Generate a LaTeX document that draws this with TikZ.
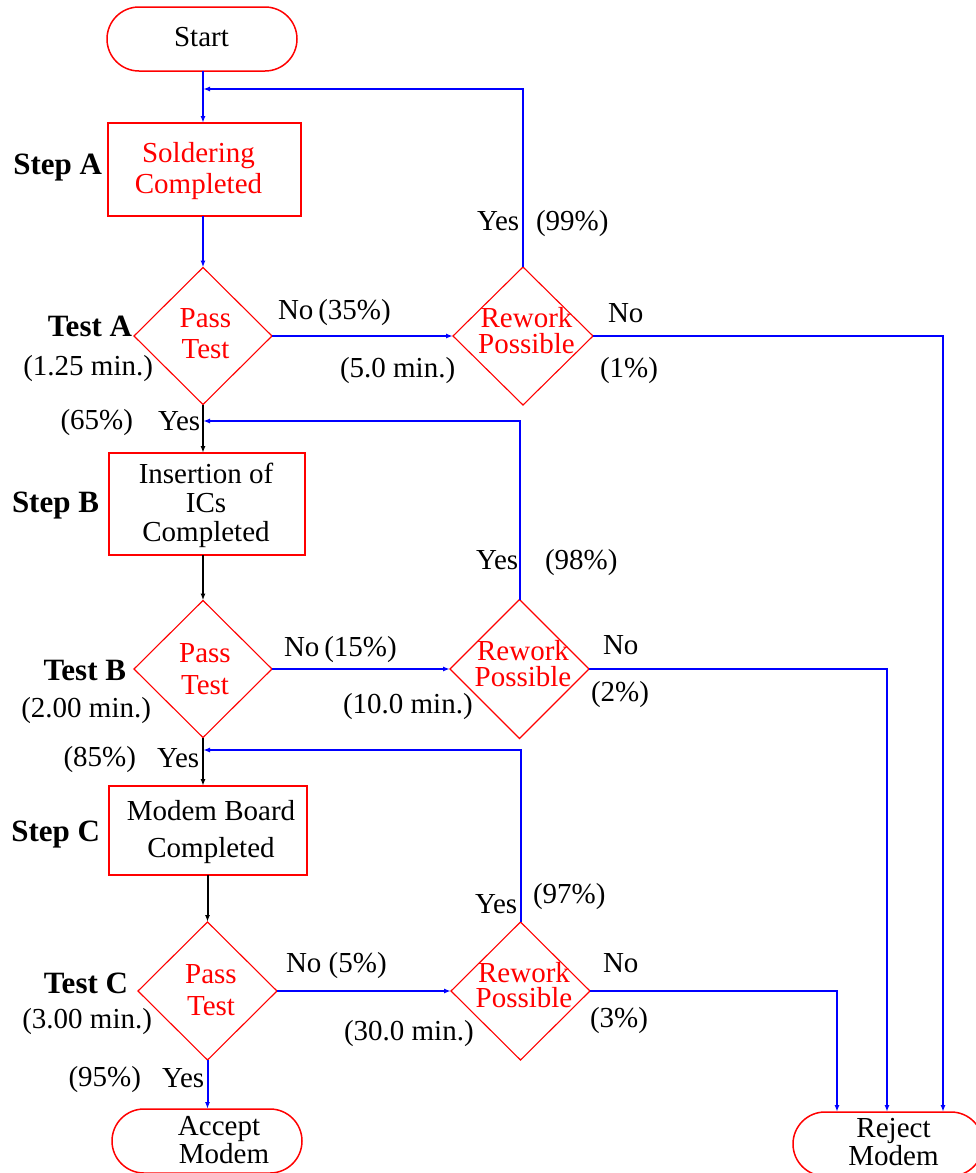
\documentclass[tikz,border=0pt]{standalone}
\usepackage{fontspec}
\setmainfont{Liberation Serif}
\usetikzlibrary{shapes.geometric,shapes.misc,arrows.meta}
\begin{document}
\begin{tikzpicture}[x=1pt,y=-1pt,
 every node/.style={inner sep=0pt, outer sep=0pt, font=\fontsize{29}{31}\selectfont},
 term/.style={rounded rectangle, draw=red, line width=1.5pt, minimum width=190pt, minimum height=64pt},
 procbox/.style={rectangle, draw=red, line width=2.6pt},
 decision/.style={diamond, draw=red, line width=1.1pt},
 flow/.style={draw=blue, line width=2pt, -{Latex[length=7pt,width=5pt]}},
 blackflow/.style={draw=black, line width=2pt, -{Latex[length=7pt,width=5pt]}},
 txt/.style={anchor=base},
 mline/.style={anchor=base, align=center},
 rtxt/.style={anchor=base west},
 ltxt/.style={anchor=base east},
 steplbl/.style={anchor=base east, font=\fontsize{31}{33}\selectfont\bfseries}]
\useasboundingbox (0,0) rectangle (975,1173);

% Start
\node[term] (start) at (202,39) {};
\node[txt] (startT) at (201.5,46) {Start};

% Step A
\node[procbox, minimum width=193pt, minimum height=93pt] (sa) at (204.5,169.5) {};
\node[mline, text=red, font=\fontsize{29}{31}\selectfont] (saT) at (198.5,193) {Soldering\\Completed};
\node[steplbl] (saL) at (102,174) {Step A};

% Test A
\node[decision, minimum width=138pt, minimum height=137pt] (ta) at (203,336) {};
\node[mline, text=red, font=\fontsize{29}{31}\selectfont] (taT) at (205.5,358) {Pass\\Test};
\node[steplbl] (taL) at (132,336) {Test A};
\node[ltxt] (taM) at (153,375) {(1.25 min.)};
\node[ltxt] (taP) at (133,429) {(65\%)};
\node[rtxt] (taY) at (158,430) {Yes};

% Rework A
\node[decision, minimum width=140pt, minimum height=138pt] (ra) at (523,336) {};
\node[mline, text=red, font=\fontsize{29}{26}\selectfont] (raT) at (526.5,353) {Rework\\Possible};
\node[rtxt] (raNo) at (278,319) {No\,(35\%)};
\node[rtxt] (raM) at (340,377) {(5.0 min.)};
\node[rtxt] (raY) at (477,230) {Yes};
\node[rtxt] (raYP) at (536,230) {(99\%)};
\node[rtxt] (raN) at (608,322) {No};
\node[rtxt] (raNP) at (600,377) {(1\%)};

% Step B
\node[procbox, minimum width=196pt, minimum height=102pt] (sb) at (207,504) {};
\node[mline, font=\fontsize{29}{29}\selectfont] (sbT) at (206,541) {Insertion of\\ICs\\Completed};
\node[steplbl] (sbL) at (99,512) {Step B};

% Test B
\node[decision, minimum width=138pt, minimum height=137pt] (tb) at (203,669) {};
\node[mline, text=red, font=\fontsize{29}{32}\selectfont] (tbT) at (205,694) {Pass\\Test};
\node[steplbl] (tbL) at (126,680) {Test B};
\node[ltxt] (tbM) at (151,717) {(2.00 min.)};
\node[ltxt] (tbP) at (136,766) {(85\%)};
\node[rtxt] (tbY) at (157,767) {Yes};

% Rework B
\node[decision, minimum width=139pt, minimum height=139pt] (rb) at (519.5,669) {};
\node[mline, text=red, font=\fontsize{29}{26}\selectfont] (rbT) at (523,686) {Rework\\Possible};
\node[rtxt] (rbNo) at (284,656) {No\,(15\%)};
\node[rtxt] (rbM) at (343,713) {(10.0 min.)};
\node[rtxt] (rbY) at (476,569) {Yes};
\node[rtxt] (rbYP) at (545,569) {(98\%)};
\node[rtxt] (rbN) at (603,654) {No};
\node[rtxt] (rbNP) at (591,701) {(2\%)};

% Step C
\node[procbox, minimum width=198pt, minimum height=89pt] (sc) at (208,830.5) {};
\node[mline, font=\fontsize{29}{37}\selectfont] (scT) at (211,857) {Modem Board\\Completed};
\node[steplbl] (scL) at (100,841) {Step C};

% Test C
\node[decision, minimum width=139pt, minimum height=138pt] (tc) at (207.5,991) {};
\node[mline, text=red, font=\fontsize{29}{32}\selectfont] (tcT) at (211,1015) {Pass\\Test};
\node[steplbl] (tcL) at (128,993) {Test C};
\node[ltxt] (tcM) at (152,1028) {(3.00 min.)};
\node[ltxt] (tcP) at (141,1086) {(95\%)};
\node[rtxt] (tcY) at (162,1087) {Yes};

% Rework C
\node[decision, minimum width=139pt, minimum height=138pt] (rc) at (520.5,991) {};
\node[mline, text=red, font=\fontsize{29}{25}\selectfont] (rcT) at (524,1007) {Rework\\Possible};
\node[rtxt] (rcNo) at (286,972) {No (5\%)};
\node[rtxt] (rcM) at (344,1040) {(30.0 min.)};
\node[rtxt] (rcY) at (475,913) {Yes};
\node[rtxt] (rcYP) at (533,903) {(97\%)};
\node[rtxt] (rcN) at (603,972) {No};
\node[rtxt] (rcNP) at (590,1027) {(3\%)};

% Terminals
\node[term] (acc) at (207,1141) {};
\node[mline, font=\fontsize{29}{28}\selectfont] (accT) at (219,1163) {Accept\\\hspace*{10pt}Modem};
\node[term] (rej) at (888,1144) {};
\node[mline, font=\fontsize{29}{25}\selectfont] (rejT) at (893.5,1165) {Reject\\Modem};

% Feedback targets
\coordinate (fbA) at (203,89);
\coordinate (fbB) at (203,421);
\coordinate (fbC) at (203,750);

% Connectors
\draw[flow] (start.south -| fbA) -- (fbA |- sa.north);
\draw[flow] (ra.north) |- (fbA);
\draw[flow] (ta.north |- sa.south) -- (ta.north);
\draw[flow] (ta.east) -- (ra.west);
\draw[flow] (ra.east) -| ([xshift=55pt]rej.north);

\draw[blackflow] (ta.south) -- (ta.south |- sb.north);
\draw[flow] (rb.north) |- (fbB);
\draw[blackflow] (tb.north |- sb.south) -- (tb.north);
\draw[flow] (tb.east) -- (rb.west);
\draw[flow] (rb.east) -| ([xshift=-1pt]rej.north);

\draw[blackflow] (tb.south) -- (tb.south |- sc.north);
\draw[flow] (rc.north) |- (fbC);
\draw[blackflow] (tc.north |- sc.south) -- (tc.north);
\draw[flow] (tc.east) -- (rc.west);
\draw[flow] (rc.east) -| ([xshift=-51pt]rej.north);

\draw[flow] (tc.south) -- (tc.south |- acc.north);
\end{tikzpicture}
\end{document}
